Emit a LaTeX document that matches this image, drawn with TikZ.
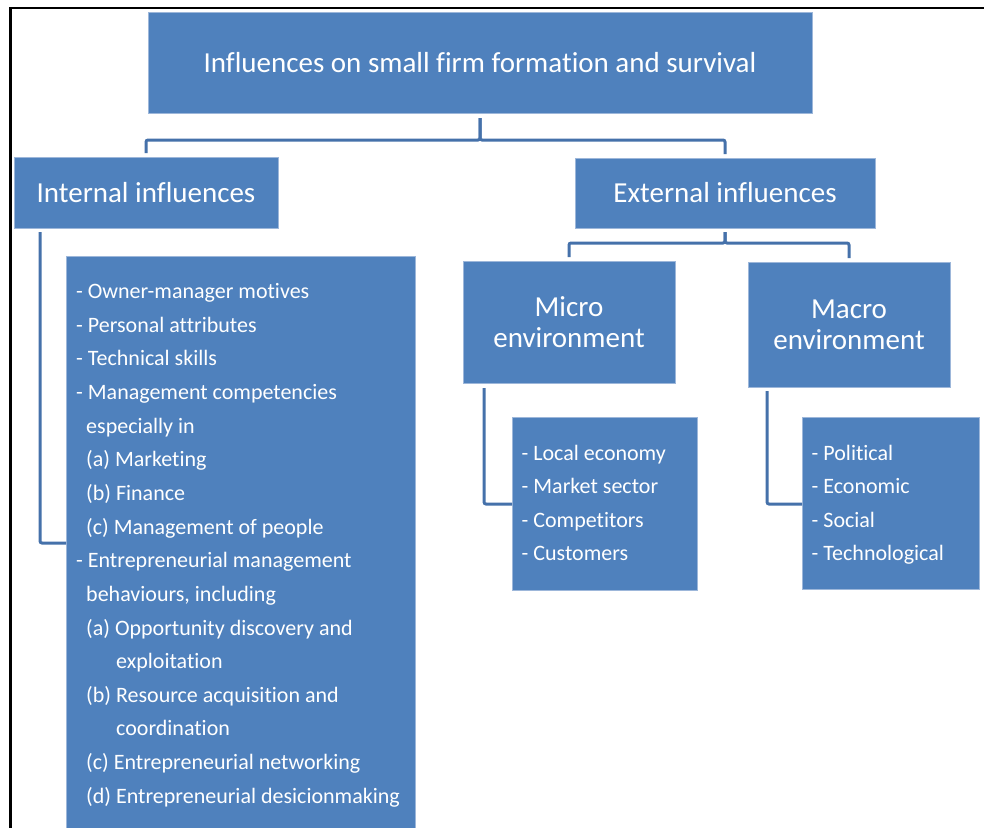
\documentclass[tikz,border=0pt]{standalone}
\usepackage{fontspec}
\setmainfont{Carlito}[RawFeature=-liga]
\definecolor{boxblue}{HTML}{4F81BD}
\definecolor{boxedge}{HTML}{9DB7DA}
\definecolor{connblue}{HTML}{4571AA}
\begin{document}
\begin{tikzpicture}[x=1pt,y=-1pt,
  blk/.style={fill=boxblue,draw=boxedge,line width=0.8pt,inner sep=0pt,outer sep=0pt,anchor=north west,text=white},
  conn/.style={draw=connblue,line width=3pt,rounded corners=2pt},
  head/.style={font=\fontsize{29}{31}\selectfont,align=center},
  item/.style={anchor=base west,inner sep=0pt,text=white,font=\fontsize{22}{26}\selectfont}]
\useasboundingbox (0,0) rectangle (984,827);
\fill[white] (0,0) rectangle (984,827);
\draw[line width=2.5pt] (10.5,830) -- (10.5,8) -- (986,8);

\node[blk,head,minimum width=664pt,minimum height=101pt] (title) at (148,12) {Influences on small firm formation and survival};
\node[blk,head,minimum width=264pt,minimum height=71pt] (int) at (14,157) {Internal influences};
\node[blk,head,minimum width=300pt,minimum height=70pt] (ext) at (575,158) {External influences};
\node[blk,head,minimum width=212pt,minimum height=122pt] (micro) at (463,261) {Micro\\environment};
\node[blk,head,minimum width=202pt,minimum height=125pt] (macro) at (748,262) {Macro\\environment};
\node[blk,minimum width=349pt,minimum height=580pt] (ilist) at (66,256) {};
\node[blk,minimum width=185pt,minimum height=173pt] (mlist) at (512,417) {};
\node[blk,minimum width=177pt,minimum height=172pt] (Mlist) at (802,417) {};

\draw[conn] ([yshift=-5pt]title.south) -- ++(0,22) -| ([yshift=4pt]int.north);
\draw[conn] ([yshift=-5pt]title.south) -- ++(0,22) -| ([yshift=4pt]ext.north);
\draw[conn] ([yshift=-4pt]ext.south) -- ++(0,11) -| ([yshift=4pt]micro.north);
\draw[conn] ([yshift=-4pt]ext.south) -- ++(0,11) -| ([yshift=4pt]macro.north);
\draw[conn] ([xshift=26pt,yshift=-4pt]int.south west) |- ([yshift=-287pt]ilist.north west);
\draw[conn] ([xshift=21pt,yshift=-5pt]micro.south west) |- ([yshift=-87pt]mlist.north west);
\draw[conn] ([xshift=19pt,yshift=-4pt]macro.south west) |- ([yshift=-87pt]Mlist.north west);

\foreach \dx/\t [count=\i] in {
  76/{- Owner-manager motives},
  76/{- Personal attributes},
  76/{- Technical skills},
  76/{- Management competencies},
  86/{especially in},
  86/{(a) Marketing},
  86/{(b) Finance},
  86/{(c) Management of people},
  76/{- Entrepreneurial management},
  86/{behaviours, including},
  86/{(a) Opportunity discovery and},
  116/{exploitation},
  86/{(b) Resource acquisition and},
  116/{coordination},
  86/{(c) Entrepreneurial networking},
  86/{(d) Entrepreneurial desicionmaking}}
  \node[item] (il\i) at (\dx,{298.5+33.65*(\i-1)}) {\t};

\foreach \t [count=\i] in {- Local economy,- Market sector,- Competitors,- Customers}
  \node[item] (ml\i) at (521.5,{460+33.5*(\i-1)}) {\t};
\foreach \t [count=\i] in {- Political,- Economic,- Social,- Technological}
  \node[item] (Ml\i) at (811.5,{460+33.5*(\i-1)}) {\t};
\end{tikzpicture}
\end{document}
